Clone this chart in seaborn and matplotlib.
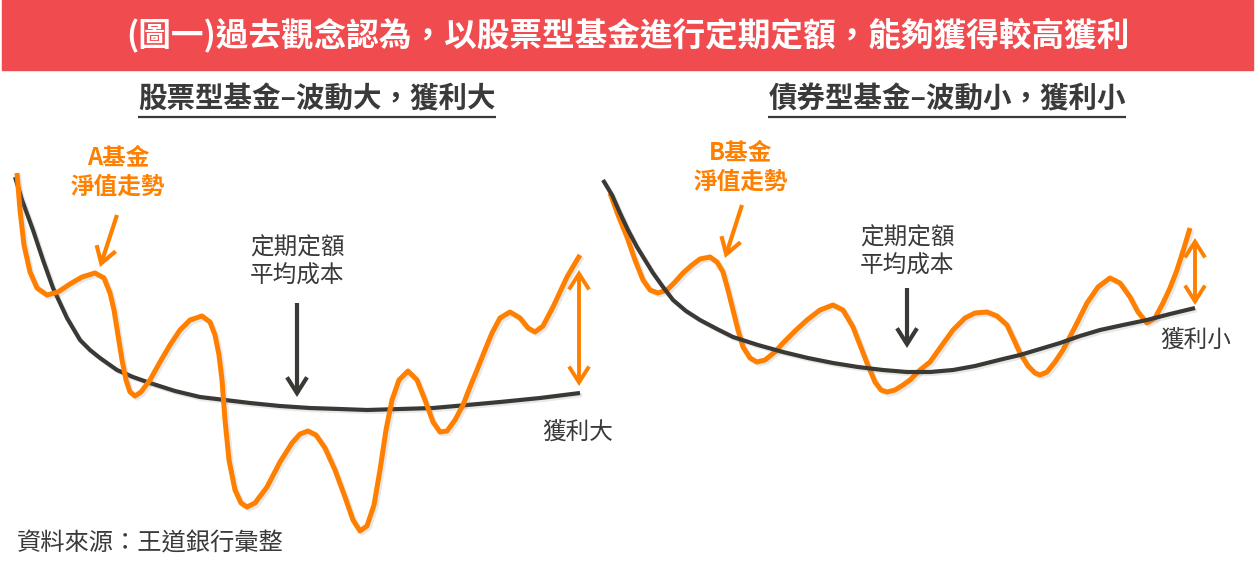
import matplotlib
matplotlib.use("Agg")
import matplotlib.pyplot as plt
import matplotlib.patheffects as pe
from matplotlib.patches import Rectangle
import seaborn as sns

# --- data (pixel space, y grows downward) ----------------------------

fund_a_x = [17, 20, 24, 30, 37, 47, 58, 70, 82, 95, 104, 110, 114, 118, 122, 126, 130, 135,
            141, 150, 160, 170, 180, 190, 202, 210, 215, 219, 222, 225, 229, 235, 241, 247,
            255, 267, 280, 292, 300, 308, 316, 325, 335, 345, 353, 360, 367, 374, 380, 386,
            392, 399, 408, 417, 425, 433, 440, 447, 455, 463, 470, 477, 485, 492, 500, 510,
            520, 528, 535, 543, 553, 560, 567, 574, 580]
fund_a_y = [173, 210, 245, 272, 288, 295, 292, 284, 277, 273, 278, 293, 310, 335, 360, 380, 392, 396,
            392, 380, 362, 345, 330, 320, 316, 322, 335, 355, 380, 420, 460, 490, 503, 507,
            503, 487, 462, 443, 434, 431, 435, 448, 470, 497, 520, 531, 526, 505, 470, 430,
            400, 380, 371, 380, 400, 422, 432, 431, 420, 405, 387, 370, 350, 333, 318, 312,
            318, 328, 332, 326, 307, 292, 277, 265, 255]

cost_a_x = [15, 22, 33, 43, 53, 67, 80, 90, 100, 117, 133, 150, 175, 200, 225, 250, 280,
            310, 340, 367, 400, 433, 467, 500, 540, 580]
cost_a_y = [177, 200, 230, 260, 288, 318, 340, 350, 358, 370, 377, 383, 391, 397, 400, 403, 406,
            408, 409, 410, 409, 408, 405, 402, 398, 393]

fund_b_x = [610, 618, 627, 635, 643, 650, 658, 667, 675, 683, 692, 700, 710, 717, 723, 728, 733,
            738, 743, 750, 757, 765, 775, 783, 795, 807, 820, 833, 843, 853, 860, 867, 875,
            881, 887, 895, 903, 910, 920, 930, 940, 953, 965, 975, 987, 997, 1007, 1014, 1020,
            1028, 1035, 1040, 1047, 1055, 1063, 1075, 1087, 1098, 1110, 1120, 1130, 1138, 1147,
            1155, 1163, 1170, 1177, 1184, 1190]
fund_b_y = [193, 215, 237, 260, 280, 290, 293, 290, 282, 273, 265, 259, 257, 262, 272, 290, 310,
            330, 347, 358, 362, 360, 352, 343, 331, 320, 310, 305, 310, 327, 345, 363, 382,
            390, 392, 390, 385, 380, 370, 362, 348, 330, 318, 313, 312, 316, 325, 340, 353,
            366, 373, 375, 372, 362, 350, 327, 303, 287, 278, 283, 297, 312, 323,
            318, 303, 288, 270, 248, 228]

cost_b_x = [603, 612, 620, 628, 637, 645, 653, 663, 673, 686, 700, 717, 733, 758, 783, 808, 833,
            858, 883, 907, 930, 953, 975, 987, 1003, 1020, 1040, 1060, 1080, 1100, 1123, 1147,
            1170, 1195]
cost_b_y = [180, 195, 213, 230, 247, 260, 273, 287, 300, 311, 320, 329, 337, 345, 352, 358, 363,
            367, 370, 372, 372, 370, 366, 363, 359, 355, 349, 343, 336, 330, 325, 320,
            314, 308]

main_title = "(圖一)過去觀念認為，以股票型基金進行定期定額，能夠獲得較高獲利"
panel_titles = ["股票型基金–波動大，獲利大", "債券型基金–波動小，獲利小"]
fund_labels = ["A基金\n淨值走勢", "B基金\n淨值走勢"]
cost_label = "定期定額\n平均成本"
gain_labels = ["獲利大", "獲利小"]
source_note = "資料來源：王道銀行彙整"

# --- style -----------------------------------------------------------

ORANGE = "#FF8000"
DARK = "#3B3935"
TEXT = "#3A3A3A"
RED = "#F04C50"

sns.set_theme(style="white")
plt.rcParams["font.family"] = ["Noto Sans CJK TC", "DejaVu Sans"]

W, H = 1255, 573
fig = plt.figure(figsize=(W / 100, H / 100), dpi=100)
ax = fig.add_axes([0, 0, 1, 1])
ax.set_xlim(0, W)
ax.set_ylim(H, 0)
ax.axis("off")

shadow = [pe.SimpleLineShadow(offset=(1.5, -1.5), alpha=0.18, shadow_color="gray"), pe.Normal()]

# --- curves ----------------------------------------------------------

for xs, ys, col, lw in [(cost_a_x, cost_a_y, DARK, 3.0), (fund_a_x, fund_a_y, ORANGE, 3.6),
                        (fund_b_x, fund_b_y, ORANGE, 3.6), (cost_b_x, cost_b_y, DARK, 3.0)]:
    sns.lineplot(x=xs, y=ys, sort=False, color=col, lw=lw, ax=ax)
    l = ax.lines[-1]
    l.set_solid_joinstyle("round")
    l.set_solid_capstyle("butt")
    l.set_path_effects(shadow)
# orange line sits above the cost line on the left panel
ax.lines[1].set_zorder(3)

# --- title bar -------------------------------------------------------

ax.add_patch(Rectangle((2, 0), W - 4, 70, color=RED, zorder=0))
ax.text(W / 2, 36, main_title, color="white", fontsize=23.5, fontweight="bold",
        ha="center", va="center")

# panel titles with underline
for cx, t in zip([317, 947], panel_titles):
    txt = ax.text(cx, 99, t, color=TEXT, fontsize=20.5, fontweight="bold",
                  ha="center", va="center")
    fig.canvas.draw()
    bb = txt.get_window_extent().transformed(ax.transData.inverted())
    ax.plot([bb.x0, bb.x1], [117, 117], color=TEXT, lw=1.6, solid_capstyle="butt")

# --- annotations -----------------------------------------------------

def arrow(x0, y0, x1, y1, col, style="->", lw=3.0):
    ax.annotate("", xy=(x1, y1), xytext=(x0, y0),
                arrowprops=dict(arrowstyle=f"{style},head_length=0.95,head_width=0.6",
                                color=col, lw=lw, shrinkA=0, shrinkB=0,
                                capstyle="butt", joinstyle="miter"))

ax.text(118, 172, fund_labels[0], color=ORANGE, fontsize=17, fontweight="bold",
        ha="center", va="center", linespacing=1.25)
ax.text(741, 167, fund_labels[1], color=ORANGE, fontsize=17, fontweight="bold",
        ha="center", va="center", linespacing=1.25)
arrow(117, 215, 100, 267, ORANGE)
arrow(742, 205, 725, 258, ORANGE)

ax.text(297, 262, cost_label, color=TEXT, fontsize=17, ha="center", va="center",
        linespacing=1.3)
ax.text(907, 252, cost_label, color=TEXT, fontsize=17, ha="center", va="center",
        linespacing=1.3)
arrow(297, 303, 297, 397, DARK)
arrow(907, 288, 907, 348, DARK)

arrow(579, 270, 579, 386, ORANGE, "<->", lw=2.8)
arrow(1195, 238, 1195, 305, ORANGE, "<->", lw=2.8)

ax.text(578, 432, gain_labels[0], color=TEXT, fontsize=17, ha="center", va="center")
ax.text(1196, 340, gain_labels[1], color=TEXT, fontsize=17, ha="center", va="center")

ax.text(17, 543, source_note, color=TEXT, fontsize=17.5, ha="left", va="center")

fig.savefig("out.png", dpi=100, facecolor="white")
